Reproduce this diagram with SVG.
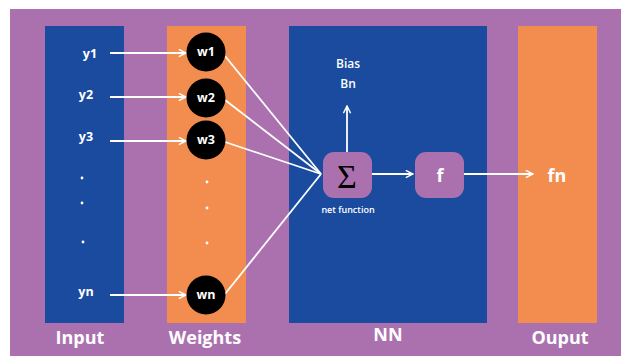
<svg xmlns="http://www.w3.org/2000/svg" width="621" height="356" viewBox="0 0 621 356">
  <defs>
    <marker id="arrow" viewBox="0 0 10 10" refX="9" refY="5" markerWidth="5" markerHeight="5" orient="auto">
      <path d="M1,1 L9,5 L1,9" fill="none" stroke="#ffffff" stroke-width="1.6"/>
    </marker>
    <style>
      .txt { font-family: "Open Sans", "Liberation Sans", sans-serif; fill: #ffffff; font-weight: bold; text-anchor: middle; }
      .lbl { font-size: 12.5px; }
      .wt { font-size: 12.5px; }
      .title { font-size: 18px; }
      .dot { fill: #ffffff; }
      .wire { stroke: #ffffff; stroke-width: 1.8; fill: none; }
      .arrowed { marker-end: url(#arrow); }
      .node { fill: #ab71af; }
    </style>
  </defs>

  <!-- backdrop and columns -->
  <rect x="0" y="0" width="621" height="356" fill="#ffffff"/>
  <rect x="10" y="9" width="611" height="347" fill="#ab71af"/>
  <rect id="input-col" x="45" y="26" width="79" height="297" fill="#1a4b9f"/>
  <rect id="weights-col" x="167" y="26" width="79" height="297" fill="#f38d4f"/>
  <rect id="nn-col" x="289" y="26" width="198" height="297" fill="#1a4b9f"/>
  <rect id="output-col" x="518" y="26" width="79" height="297" fill="#f38d4f"/>

  <!-- connectors -->
  <g id="connectors">
    <line class="wire arrowed" x1="110" y1="53" x2="186" y2="53"/>
    <line class="wire arrowed" x1="110" y1="97" x2="186" y2="97"/>
    <line class="wire arrowed" x1="110" y1="141" x2="186" y2="141"/>
    <line class="wire arrowed" x1="110" y1="295" x2="186" y2="295"/>
    <line class="wire" x1="225" y1="56" x2="321" y2="174"/>
    <line class="wire" x1="225" y1="100" x2="321" y2="174"/>
    <line class="wire" x1="225" y1="142" x2="321" y2="174"/>
    <line class="wire" x1="225" y1="294" x2="321" y2="174"/>
    <line class="wire arrowed" x1="347" y1="152" x2="347" y2="106"/>
    <line class="wire arrowed" x1="372" y1="174" x2="413" y2="174"/>
    <line class="wire arrowed" x1="464" y1="174" x2="533" y2="174"/>
  </g>

  <!-- inputs -->
  <g id="inputs">
    <text class="txt lbl" x="90" y="58">y1</text>
    <text class="txt lbl" x="86" y="99">y2</text>
    <text class="txt lbl" x="86" y="141">y3</text>
    <circle class="dot" cx="82" cy="178" r="1.4"/>
    <circle class="dot" cx="82" cy="203" r="1.4"/>
    <circle class="dot" cx="83" cy="242" r="1.4"/>
    <text class="txt lbl" x="86" y="296">yn</text>
  </g>

  <!-- weights -->
  <g id="w1"><circle cx="206" cy="52" r="19.5" fill="#000"/><text class="txt wt" x="206" y="56">w1</text></g>
  <g id="w2"><circle cx="206" cy="98" r="19.5" fill="#000"/><text class="txt wt" x="206" y="102">w2</text></g>
  <g id="w3"><circle cx="206" cy="140" r="19.5" fill="#000"/><text class="txt wt" x="206" y="144">w3</text></g>
  <g id="weight-dots">
    <circle class="dot" cx="207" cy="182" r="1.4"/>
    <circle class="dot" cx="207" cy="208" r="1.4"/>
    <circle class="dot" cx="207" cy="243" r="1.4"/>
  </g>
  <g id="wn"><circle cx="206" cy="295" r="19.5" fill="#000"/><text class="txt wt" x="206" y="299">wn</text></g>

  <!-- net function -->
  <g id="sum">
    <rect class="node" x="323" y="152" width="49" height="46" rx="11"/>
    <text x="347" y="188" font-family="'Liberation Serif', serif" font-size="34" text-anchor="middle" fill="#000">Σ</text>
    <text class="txt" x="348" y="213" font-size="9" style="font-weight:600">net function</text>
  </g>
  <g id="bias">
    <text class="txt" x="348" y="68" font-size="12" style="font-weight:600">Bias</text>
    <text class="txt" x="348" y="88" font-size="12" style="font-weight:600">Bn</text>
  </g>

  <!-- activation -->
  <g id="f">
    <rect class="node" x="415" y="152" width="49" height="46" rx="11"/>
    <text class="txt" x="440" y="182" font-size="18">f</text>
  </g>

  <!-- output -->
  <g id="fn"><text class="txt" x="557" y="182" font-size="18">fn</text></g>

  <!-- column titles -->
  <g id="titles">
    <text class="txt title" x="80" y="344">Input</text>
    <text class="txt title" x="205" y="344">Weights</text>
    <text class="txt title" x="388" y="341">NN</text>
    <text class="txt title" x="560" y="344">Ouput</text>
  </g>
</svg>
